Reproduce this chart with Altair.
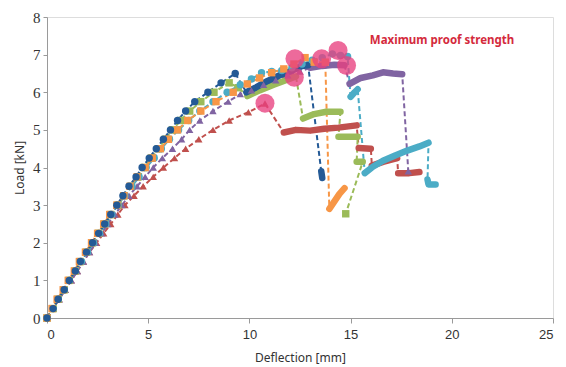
import altair as alt
import pandas as pd

# ---- load–deflection records (x: deflection mm, y: load kN) ----
# seg = 0 : sparse logged points (drawn with a marker)
# seg > 0 : densely logged runs (drawn as a thick band)

navy_x = [0, 0.3, 0.55, 0.85, 1.1, 1.4, 1.65, 1.95, 2.25, 2.55, 2.85, 3.15, 3.45, 3.75,
          4.05, 4.4, 4.7, 5.05, 5.4, 5.75, 6.1, 6.45, 6.85, 7.3, 7.95, 8.6, 9.3,
          9.85, 10.3, 10.9, 11.5, 12.1, 12.6, 12.9,
          13.55, 13.6]
navy_y = [0, 0.25, 0.5, 0.75, 1.0, 1.25, 1.5, 1.75, 2.0, 2.25, 2.5, 2.75, 3.0, 3.25,
          3.5, 3.75, 4.0, 4.25, 4.5, 4.75, 5.0, 5.25, 5.5, 5.75, 6.0, 6.25, 6.5,
          6.0, 6.12, 6.3, 6.45, 6.58, 6.7, 6.72,
          3.9, 3.72]
navy_seg = [0] * 27 + [1] * 7 + [2] * 2

orange_x = [0, 0.25, 0.5, 0.8, 1.05, 1.35, 1.6, 1.9, 2.2, 2.5, 2.8, 3.1, 3.45, 3.8,
            4.1, 4.45, 4.85, 5.2, 5.6, 6.0, 6.45, 6.95, 7.6, 8.35, 9.2,
            9.9, 10.5, 11.1, 11.7, 12.2, 12.75, 13.2, 13.75,
            13.95, 14.2, 14.45, 14.7]
orange_y = [0, 0.25, 0.5, 0.75, 1.0, 1.25, 1.5, 1.75, 2.0, 2.25, 2.5, 2.75, 3.0, 3.25,
            3.5, 3.75, 4.0, 4.25, 4.5, 4.75, 5.0, 5.25, 5.5, 5.75, 6.0,
            6.22, 6.38, 6.52, 6.62, 6.75, 6.92, 6.8, 6.8,
            2.9, 3.1, 3.3, 3.45]
orange_seg = [0] * 33 + [1] * 4

green_x = [0, 0.3, 0.55, 0.85, 1.1, 1.4, 1.65, 1.95, 2.25, 2.55, 2.85, 3.15, 3.5, 3.8,
           4.15, 4.5, 4.8, 5.15, 5.5, 5.85, 6.2, 6.6, 7.05, 7.6, 8.25, 9.0, 9.45,
           9.9, 10.5, 11.2, 11.8, 12.3,
           12.65, 13.2, 13.8, 14.5,
           14.4, 15.35,
           15.3, 15.6,
           14.76]
green_y = [0, 0.25, 0.5, 0.75, 1.0, 1.25, 1.5, 1.75, 2.0, 2.25, 2.5, 2.75, 3.0, 3.25,
           3.5, 3.75, 4.0, 4.25, 4.5, 4.75, 5.0, 5.25, 5.5, 5.75, 6.0, 6.25, 6.12,
           5.9, 6.05, 6.2, 6.32, 6.42,
           5.3, 5.42, 5.48, 5.48,
           4.82, 4.82,
           4.15, 4.15,
           2.77]
green_seg = [0] * 27 + [1] * 5 + [2] * 4 + [3] * 2 + [4] * 2 + [0]

cyan_x = [0, 0.3, 0.55, 0.85, 1.1, 1.4, 1.7, 2.0, 2.3, 2.6, 2.9, 3.2, 3.5, 3.85,
          4.2, 4.55, 4.9, 5.3, 5.65, 6.05, 6.5, 7.0, 7.55, 8.2, 8.9,
          9.55, 10.1, 10.6, 11.1, 11.6, 12.1, 12.6, 13.1, 13.6, 14.1, 14.5, 14.85,
          15.0, 15.2, 15.35,
          15.7, 16.1, 16.6, 17.2, 17.8, 18.4, 18.85,
          18.8, 18.85, 19.2]
cyan_y = [0, 0.25, 0.5, 0.75, 1.0, 1.25, 1.5, 1.75, 2.0, 2.25, 2.5, 2.75, 3.0, 3.25,
          3.5, 3.75, 4.0, 4.25, 4.5, 4.75, 5.0, 5.25, 5.5, 5.75, 6.0,
          6.2, 6.35, 6.52, 6.55, 6.58, 6.65, 6.75, 6.85, 6.92, 7.02, 6.98, 6.95,
          5.88, 6.0, 6.08,
          3.85, 4.02, 4.18, 4.32, 4.45, 4.56, 4.66,
          3.68, 3.55, 3.55]
cyan_seg = [0] * 37 + [1] * 3 + [2] * 7 + [3] * 3

purple_x = [0, 0.3, 0.6, 0.9, 1.2, 1.5, 1.8, 2.1, 2.4, 2.7, 3.0, 3.35, 3.7, 4.05,
            4.45, 4.85, 5.25, 5.7, 6.2, 6.65, 7.05, 7.55, 8.2, 8.95,
            9.55, 10.1, 10.7, 11.3, 11.9, 12.5,
            13.0, 13.6, 14.2, 14.7,
            14.95, 15.5, 16.1, 16.6, 17.1, 17.55,
            17.85]
purple_y = [0, 0.25, 0.5, 0.75, 1.0, 1.25, 1.5, 1.75, 2.0, 2.25, 2.5, 2.75, 3.0, 3.25,
            3.5, 3.75, 4.0, 4.25, 4.5, 4.75, 5.0, 5.25, 5.5, 5.75,
            5.95, 6.05, 6.2, 6.32, 6.45, 6.55,
            6.65, 6.7, 6.73, 6.72,
            6.22, 6.38, 6.45, 6.53, 6.5, 6.48,
            3.9]
purple_seg = [0] * 30 + [1] * 4 + [2] * 6 + [0]

red_x = [0, 0.3, 0.6, 0.9, 1.2, 1.5, 1.8, 2.1, 2.45, 2.8, 3.15, 3.5, 3.85, 4.3,
         4.75, 5.25, 5.75, 6.3, 6.85, 7.5, 8.2, 9.0, 9.95, 10.77,
         11.7, 12.3, 13.0, 13.7, 14.4, 15.0, 15.3,
         15.4, 16.0,
         16.05, 16.6, 17.3,
         17.35, 17.9, 18.4]
red_y = [0, 0.25, 0.5, 0.75, 1.0, 1.25, 1.5, 1.75, 2.0, 2.25, 2.5, 2.75, 3.0, 3.25,
         3.5, 3.75, 4.0, 4.25, 4.5, 4.75, 5.0, 5.25, 5.47, 5.7,
         4.93, 5.0, 4.98, 5.03, 5.06, 5.1, 5.12,
         4.52, 4.5,
         4.05, 4.15, 4.25,
         3.85, 3.85, 3.88]
red_seg = [0] * 24 + [1] * 7 + [2] * 2 + [3] * 3 + [4] * 3

# maximum proof strength of each specimen
peak_x = [10.77, 12.25, 12.22, 13.57, 14.38, 14.8]
peak_y = [5.71, 6.89, 6.4, 6.89, 7.11, 6.71]

series_names = ["S6", "S5", "S3", "S4", "S2", "S1"]
series_colors = ["#c0504d", "#8064a2", "#9bbb59", "#4bacc6", "#f79646", "#245a96"]
series_shapes = ["triangle-up", "triangle-up", "square", "circle", "square", "circle"]
series_data = [
    (red_x, red_y, red_seg),
    (purple_x, purple_y, purple_seg),
    (green_x, green_y, green_seg),
    (cyan_x, cyan_y, cyan_seg),
    (orange_x, orange_y, orange_seg),
    (navy_x, navy_y, navy_seg),
]

rows = []
for name, (xs, ys, segs) in zip(series_names, series_data):
    for i, (x, y, s) in enumerate(zip(xs, ys, segs)):
        rows.append({"series": name, "i": i, "x": x, "y": y, "seg": s,
                     "run": f"{name}-{s}"})
df = pd.DataFrame(rows)
peaks = pd.DataFrame({"x": peak_x, "y": peak_y})

color = alt.Color("series:N", scale=alt.Scale(domain=series_names, range=series_colors),
                  legend=None)
shape = alt.Shape("series:N", scale=alt.Scale(domain=series_names, range=series_shapes),
                  legend=None)

x_axis = alt.Axis(values=[0, 5, 10, 15, 20, 25], grid=False, labelOverlap=False,
                  domainColor="#9a9a9a", tickColor="#9a9a9a", tickSize=5,
                  labelFont="Liberation Sans", labelFontSize=13,
                  labelColor="#333333", labelPadding=5,
                  title="Deflection  [mm]", titleFont="Noto Sans",
                  titleFontSize=12, titleFontWeight="normal",
                  titleColor="#333333", titleY=39, titleBaseline="middle")
y_axis = alt.Axis(values=[0, 1, 2, 3, 4, 5, 6, 7, 8], grid=False, labelOverlap=False,
                  domainColor="#9a9a9a", tickColor="#9a9a9a", tickSize=4,
                  labelFont="Liberation Serif", labelFontSize=15,
                  labelColor="#333333", labelPadding=3,
                  title="Load  [kN]", titleFont="Noto Sans",
                  titleFontSize=12, titleFontWeight="normal",
                  titleColor="#333333", titleX=-28, titleBaseline="middle")
x_enc = alt.X("x:Q", scale=alt.Scale(domain=[0, 25], nice=False), axis=x_axis)
y_enc = alt.Y("y:Q", scale=alt.Scale(domain=[0, 8], nice=False), axis=y_axis)

base = alt.Chart(df)

dashed = base.mark_line(strokeDash=[5, 3], strokeWidth=2).encode(
    x=x_enc, y=y_enc, color=color, detail="series:N", order="i:Q")

bands = base.transform_filter("datum.seg > 0").mark_line(
    strokeWidth=6.5, strokeCap="round", strokeJoin="round").encode(
    x=x_enc, y=y_enc, color=color, detail="run:N", order="i:Q")

markers = base.transform_filter("datum.seg == 0").mark_point(
    filled=True, size=55, opacity=1).encode(
    x=x_enc, y=y_enc, color=color, shape=shape)

peak_marks = alt.Chart(peaks).mark_circle(size=360, color="#e8407f", opacity=0.78).encode(
    x=x_enc, y=y_enc)

label = alt.Chart(pd.DataFrame({"x": [15.95], "y": [7.35],
                                "t": ["Maximum proof strength"]})).mark_text(
    align="left", baseline="middle", font="Noto Sans", fontSize=11.5,
    fontWeight="bold", color="#d42a3c").encode(x=x_enc, y=y_enc, text="t:N")

chart = alt.layer(dashed, bands, markers, peak_marks, label).properties(
    width=506, height=301,
    autosize=alt.AutoSizeParams(type="none"),
    padding={"left": 47, "top": 17, "right": 13, "bottom": 49},
).configure_view(stroke=None).configure(background="white")

chart.save("out.html", embed_options={"renderer": "svg", "actions": False})
